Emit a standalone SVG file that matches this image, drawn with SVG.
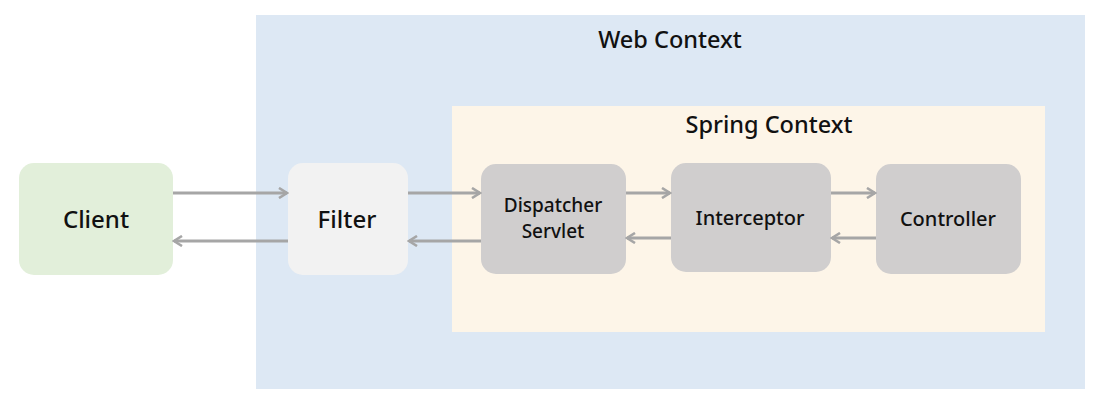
<svg xmlns="http://www.w3.org/2000/svg" width="1100" height="402" viewBox="0 0 1100 402">
<style>
text{font-family:"Noto Sans","Open Sans","Liberation Sans",sans-serif;fill:#111;text-anchor:middle;dominant-baseline:central}
.lbl{font-size:20px;font-weight:500}
.lbl2{font-size:19px;font-weight:500}
.big{font-size:24px;font-weight:500}
.title{font-size:23.5px;font-weight:500}
.c{stroke:#a6a6a6;stroke-width:3;fill:none;marker-end:url(#ah)}
</style>
<defs>
<marker id="ah" viewBox="0 0 12 12" refX="10" refY="6" markerWidth="12" markerHeight="12" markerUnits="userSpaceOnUse" orient="auto">
<path d="M2,1 L10,6 L2,11" fill="none" stroke="#a6a6a6" stroke-width="2.6"/>
</marker>
</defs>
<rect width="1100" height="402" fill="#fff"/>
<g id="web-context">
<rect x="256" y="15" width="829" height="374" fill="#dde8f4"/>
<text class="title" x="670" y="39">Web Context</text>
</g>
<g id="spring-context">
<rect x="452" y="106" width="593" height="226" fill="#fdf5e8"/>
<text class="title" x="769" y="124">Spring Context</text>
</g>
<g id="client">
<rect x="19" y="163" width="154" height="112" rx="15" fill="#e2efda"/>
<text class="big" x="96" y="218">Client</text>
</g>
<g id="filter">
<rect x="288" y="163" width="120" height="112" rx="15" fill="#f2f2f2"/>
<text class="big" x="347" y="218">Filter</text>
</g>
<g id="dispatcher-servlet">
<rect x="481" y="164" width="145" height="110" rx="15" fill="#d0cece"/>
<text class="lbl2" x="553" y="205">Dispatcher</text>
<text class="lbl2" x="553" y="231">Servlet</text>
</g>
<g id="interceptor">
<rect x="671" y="163" width="160" height="109" rx="15" fill="#d0cece"/>
<text class="lbl" x="750" y="217">Interceptor</text>
</g>
<g id="controller">
<rect x="876" y="164" width="145" height="110" rx="15" fill="#d0cece"/>
<text class="lbl" x="948" y="218">Controller</text>
</g>
<g id="connectors">
<path class="c" d="M173,193 H287"/>
<path class="c" d="M288,241 H174"/>
<path class="c" d="M408,193 H480"/>
<path class="c" d="M481,241 H409"/>
<path class="c" d="M626,193 H670"/>
<path class="c" d="M671,238 H627"/>
<path class="c" d="M831,193 H875"/>
<path class="c" d="M876,238 H832"/>
</g>
</svg>
